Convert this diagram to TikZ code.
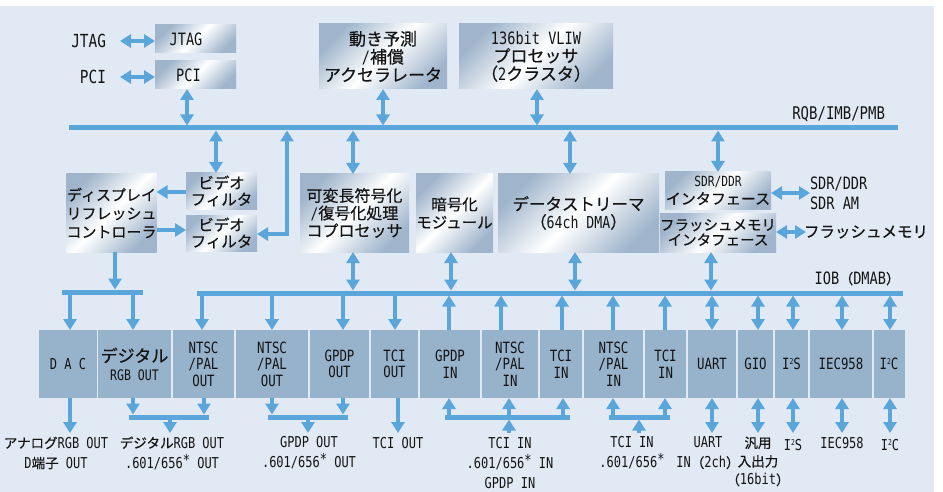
\documentclass[tikz,border=0pt]{standalone}
\usepackage{fontspec}
\setmainfont{Noto Sans CJK JP}
\newfontfamily\jp[FakeBold=0.5]{Noto Sans CJK JP}
\newfontfamily\lat[FakeStretch=0.8]{DejaVu Sans Mono}
\usetikzlibrary{arrows.meta,calc}
\definecolor{bgc}{HTML}{E1E9F4}
\definecolor{abl}{HTML}{5AA6DB}
\definecolor{boxb}{HTML}{A0B5CC}
\definecolor{blk}{HTML}{97B2CB}
\definecolor{txt}{HTML}{141414}
\newcommand\fsz[2]{\fontsize{#1}{#2}\selectfont}
\newcommand\sqd{\raisebox{5pt}{\fsz{8}{8}2}}
\newcommand\sast{\raisebox{3pt}{*}}
\newcommand\J[1]{{\jp\fsz{13.5}{20}#1}}
\newcommand\JL[1]{{\jp\fsz{17}{18}#1}}
\tikzset{
  every node/.style={text=txt, inner sep=0pt, outer sep=0pt},
  sbox/.style={rectangle, shade, left color=boxb, right color=boxb, middle color=white, shading angle=45, align=center},
  iob/.style={rectangle, fill=blk, align=center, minimum height=68, font=\lat\fsz{15.5}{16.5}},
  busn/.style={rectangle, fill=abl, minimum height=5},
  conn/.style={draw=abl, line width=4.6pt},
  ar/.style={conn, -{Triangle[width=13pt,length=11pt]}},
  dar/.style={conn, {Triangle[width=13pt,length=11pt]}-{Triangle[width=13pt,length=11pt]}},
  lab/.style={align=center, font=\lat\fsz{15}{20}},
}
\begin{document}
\begin{tikzpicture}[x=1pt,y=-1pt]
\useasboundingbox (0,0) rectangle (943,492);
\fill[bgc] (0,6) rectangle (934,492);

% ---------- top row ----------
\node[anchor=east, font=\lat\fsz{18}{18}] (lJTAG) at (106,41) {JTAG};
\node[anchor=east, font=\lat\fsz{18}{18}] (lPCI) at (106,77) {PCI};
\node[sbox, minimum width=81, minimum height=28, font=\lat\fsz{17}{17}] (JTAG) at (195.5,39) {JTAG\hspace{19pt}};
\node[sbox, minimum width=81, minimum height=28, font=\lat\fsz{17}{17}] (PCI) at (195.5,75) {PCI\hspace{14pt}};
\node[sbox, minimum width=128, minimum height=65, font=\jp\fsz{17}{18}] (MOT) at (383,56.5) {動き予測\\{\lat /}補償\\アクセラレータ};
\node[sbox, minimum width=154, minimum height=65, font=\jp\fsz{17}{18}] (VLIW) at (536,56.5) {{\lat 136bit VLIW}\\プロセッサ\\（{\lat 2}クラスタ）};

\node[busn, minimum width=829] (tbus) at (483.5,128) {};
\node[anchor=base east, font=\lat\fsz{17.5}{17.5}] (lRQB) at (885,120) {RQB/IMB/PMB};

\draw[dar] (lJTAG.east -| 120,0) -- (JTAG.west |- lJTAG.east);
\draw[dar] (lPCI.east -| 120,0) -- (PCI.west |- lPCI.east);
\draw[dar] (PCI.south -| 187,0) -- (tbus.north -| 187,0);
\draw[dar] (MOT.south) -- (tbus.north -| MOT.south);
\draw[dar] (VLIW.south -| 537,0) -- (tbus.north -| 537,0);

% ---------- middle row ----------
\node[sbox, minimum width=85, minimum height=78, font=\jp\fsz{15}{18.5}] (DRC) at (111.5,213) {ディスプレイ\\リフレッシュ\\コントローラ};
\node[sbox, minimum width=71, minimum height=36, font=\jp\fsz{15.5}{16.5}] (VF1) at (221.5,191) {ビデオ\\フィルタ};
\node[sbox, minimum width=71, minimum height=36, font=\jp\fsz{15.5}{16.5}] (VF2) at (221.5,233) {ビデオ\\フィルタ};
\node[sbox, minimum width=109, minimum height=78, font=\jp\fsz{16}{17.5}] (VLC) at (354.5,213) {可変長符号化\\{\lat /}復号化処理\\コプロセッサ};
\node[sbox, minimum width=77, minimum height=78, font=\jp\fsz{15.5}{18}] (CRY) at (454.5,213) {暗号化\\モジュール};
\node[sbox, minimum width=161, minimum height=78, font=\jp\fsz{16.5}{18}] (DS) at (578.5,213) {データストリーマ\\（{\lat 64ch DMA}）};
\node[sbox, minimum width=106, minimum height=37, font=\jp\fsz{15}{18}] (SDR) at (718,190.5) {{\lat\fsz{14}{18}SDR/DDR}\\インタフェース};
\node[sbox, minimum width=106, minimum height=39, font=\jp\fsz{14.5}{15}] (FL) at (718,232.5) {フラッシュメモリ\\インタフェース};
\node[anchor=west, align=left, font=\lat\fsz{17}{20}] (lSDR) at (810,193) {SDR/DDR\\SDR AM};
\node[anchor=west, font=\jp\fsz{15.5}{15.5}] (lFL) at (804,232) {フラッシュメモリ};
\coordinate (eFL) at (806,232);

\draw[dar] (tbus.south -| 216,0) -- (VF1.north -| 216,0);
\draw[dar] (tbus.south -| 287,0) |- (VF2.east |- 0,234);
\draw[dar] (tbus.south -| 353,0) -- (VLC.north -| 353,0);
\draw[dar] (tbus.south -| 570,0) -- (DS.north -| 570,0);
\draw[dar] (tbus.south -| 718,0) -- (SDR.north -| 718,0);
\draw[ar] (VF1.west |- 0,192) -- (DRC.east |- 0,192);
\draw[ar] (DRC.east |- 0,230) -- (VF2.west |- 0,230);
\draw[dar] (SDR.east |- 0,193) -- (lSDR.west |- 0,193);
\draw[dar] (FL.east |- eFL) -- (eFL);

% ---------- IO bus ----------
\node[busn, minimum width=706] (iobus) at (550,293) {};
\node[busn, minimum width=81] (brL) at (102.5,292) {};
\node[anchor=base east, font=\lat\fsz{17}{17}] (lIOB) at (900,284) {IOB{\jp\fsz{14}{14}（}DMAB{\jp\fsz{14}{14}）}};

\draw[ar] (DRC.south -| 115,0) -- (brL.north -| 115,0);
\draw[dar] (VLC.south -| 353,0) -- (iobus.north -| 353,0);
\draw[dar] (CRY.south -| 451,0) -- (iobus.north -| 451,0);
\draw[dar] (DS.south -| 575,0) -- (iobus.north -| 575,0);
\draw[dar] (FL.south -| 711,0) -- (iobus.north -| 711,0);

% ---------- IO blocks ----------
\node[iob, minimum width=58, font=\lat\fsz{15}{16}] (bDAC) at (68,364) {D A C};
\node[iob, minimum width=73.5, font=\lat\fsz{14.5}{18}] (bDRGB) at (134.5,364) {\JL{デジタル}\\RGB OUT};
\node[iob, minimum width=61.5] (bNT1) at (203.5,364) {NTSC\\/PAL\\OUT};
\node[iob, minimum width=72.5] (bNT2) at (272,364) {NTSC\\/PAL\\OUT};
\node[iob, minimum width=59.5] (bGPo) at (339.5,364) {GPDP\\OUT};
\node[iob, minimum width=47.5] (bTCo) at (394.5,364) {TCI\\OUT};
\node[iob, minimum width=60.5] (bGPi) at (450,364) {GPDP\\IN};
\node[iob, minimum width=56.5] (bNTi1) at (510,364) {NTSC\\/PAL\\IN};
\node[iob, minimum width=42.5] (bTCi1) at (561,364) {TCI\\IN};
\node[iob, minimum width=59.5] (bNTi2) at (613.5,364) {NTSC\\/PAL\\IN};
\node[iob, minimum width=41.5] (bTCi2) at (665.5,364) {TCI\\IN};
\node[iob, minimum width=48.5] (bUART) at (712,364) {UART};
\node[iob, minimum width=35.5] (bGIO) at (755.5,364) {GIO};
\node[iob, minimum width=33.5] (bI2S) at (791.5,364) {I\sqd S};
\node[iob, minimum width=62.5] (bIEC) at (841,364) {IEC958};
\node[iob, minimum width=31] (bI2C) at (889,364) {I\sqd C};

\draw[ar] (brL.south -| 70,0) -- (bDAC.north -| 70,0);
\draw[ar] (brL.south -| 133,0) -- (bDRGB.north -| 133,0);
\draw[ar] (iobus.south -| 202,0) -- (bNT1.north -| 202,0);
\draw[ar] (iobus.south -| 272,0) -- (bNT2.north -| 272,0);
\draw[ar] (iobus.south -| 343,0) -- (bGPo.north -| 343,0);
\draw[ar] (iobus.south -| 395,0) -- (bTCo.north -| 395,0);
\draw[ar] (bGPi.north -| 449,0) -- (iobus.south -| 449,0);
\draw[ar] (bNTi1.north -| 501,0) -- (iobus.south -| 501,0);
\draw[ar] (bTCi1.north -| 562,0) -- (iobus.south -| 562,0);
\draw[ar] (bNTi2.north -| 613,0) -- (iobus.south -| 613,0);
\draw[ar] (bTCi2.north -| 665,0) -- (iobus.south -| 665,0);
\draw[dar] (iobus.south -| 712,0) -- (bUART.north -| 712,0);
\draw[dar] (iobus.south -| 758,0) -- (bGIO.north -| 758,0);
\draw[dar] (iobus.south -| 793,0) -- (bI2S.north -| 793,0);
\draw[dar] (iobus.south -| 842,0) -- (bIEC.north -| 842,0);
\draw[dar] (iobus.south -| 890,0) -- (bI2C.north -| 890,0);

% ---------- bottom brackets ----------
\node[busn, minimum width=80] (br1) at (169,417) {};
\node[busn, minimum width=80] (br2) at (308,417) {};
\node[busn, minimum width=125] (br3) at (507.5,417) {};
\node[busn, minimum width=61] (br4) at (639.5,417) {};

\coordinate (eDAC) at (70,433);
\coordinate (e1) at (170,433);
\coordinate (e2) at (308,433);
\coordinate (eTCo) at (398,433);
\coordinate (e3) at (509,433);
\coordinate (e4) at (639,433);
\coordinate (eUART) at (712,433);
\coordinate (eGIO) at (758,433);
\coordinate (eI2S) at (793,433);
\coordinate (eIEC) at (842,433);
\coordinate (eI2C) at (890,433);

\draw[ar] (bDAC.south -| eDAC) -- (eDAC);
\draw[ar] (bDRGB.south -| 133,0) -- (br1.north -| 133,0);
\draw[ar] (bNT1.south -| 204,0) -- (br1.north -| 204,0);
\draw[ar] (br1.south -| e1) -- (e1);
\draw[ar] (bNT2.south -| 272,0) -- (br2.north -| 272,0);
\draw[ar] (bGPo.south -| 343,0) -- (br2.north -| 343,0);
\draw[ar] (br2.south -| e2) -- (e2);
\draw[ar] (bTCo.south -| eTCo) -- (eTCo);
\draw[ar] (br3.north -| 449,0) -- (bGPi.south -| 449,0);
\draw[ar] (br3.north -| 509,0) -- (bNTi1.south -| 509,0);
\draw[ar] (br3.north -| 563,0) -- (bTCi1.south -| 563,0);
\draw[ar] (e3) -- (br3.south -| e3);
\draw[ar] (br4.north -| 613,0) -- (bNTi2.south -| 613,0);
\draw[ar] (br4.north -| 665,0) -- (bTCi2.south -| 665,0);
\draw[ar] (e4) -- (br4.south -| e4);
\draw[dar] (bUART.south) -- (eUART);
\draw[dar] (bGIO.south -| eGIO) -- (eGIO);
\draw[dar] (bI2S.south -| eI2S) -- (eI2S);
\draw[dar] (bIEC.south -| eIEC) -- (eIEC);
\draw[dar] (bI2C.south -| eI2C) -- (eI2C);

% ---------- bottom labels ----------
\node[lab] (lDAC) at (56,453) {\J{アナログ}RGB OUT\\D\J{端子} OUT};
\node[lab] (lDRGB) at (172,453) {\J{デジタル}RGB OUT\\.601/656\sast{}  OUT};
\node[lab] (lGPo) at (309,453) {GPDP OUT\\.601/656\sast{}  OUT};
\node[lab] (lTCo) at (398,443) {TCI OUT};
\node[lab] (lTCi1) at (510,463) {TCI IN\\.601/656\sast{}  IN\\GPDP IN};
\node[lab] (lTCi2) at (632,453) {TCI IN\\.601/656\sast};
\node[lab] (lUART) at (708,453) {UART\\IN\J{（}2ch\J{）}};
\node[lab, font=\lat\fsz{15}{18.5}] (lGIO) at (758,461.5) {\J{汎用}\\\J{入出力}\\\J{（}16bit\J{）}};
\node[lab] (lI2S) at (793,445) {I\sqd S};
\node[lab] (lIEC) at (842,443) {IEC958};
\node[lab] (lI2C) at (890,445) {I\sqd C};
\end{tikzpicture}
\end{document}
